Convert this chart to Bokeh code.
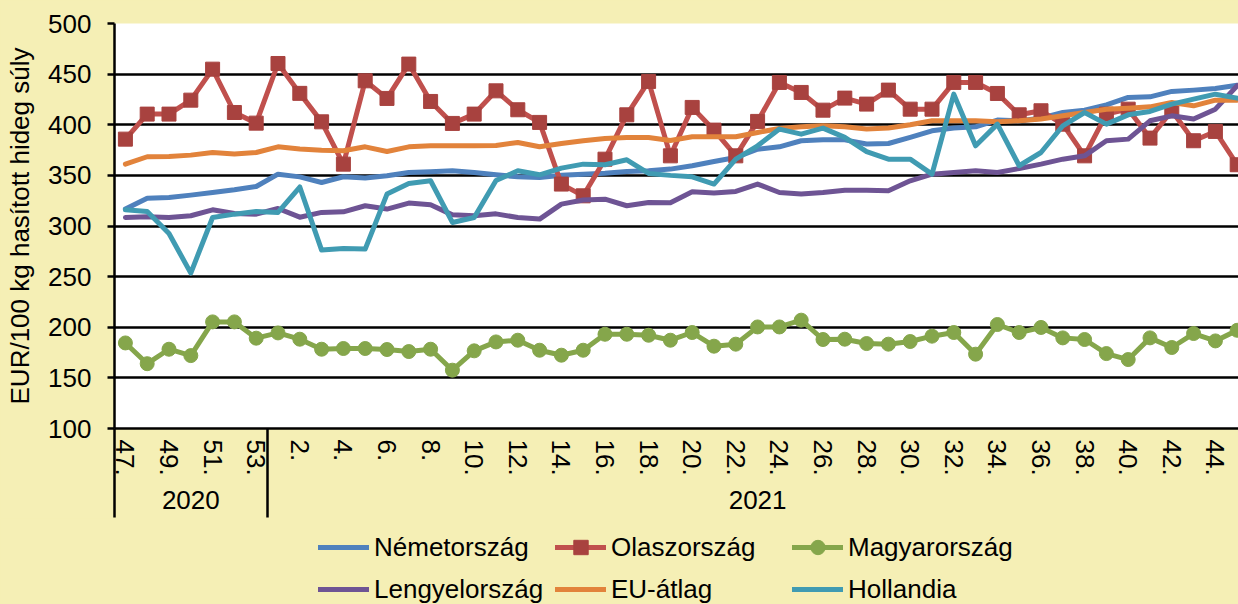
from bokeh.plotting import figure
from bokeh.layouts import column
from bokeh.models import Range1d, FixedTicker, LinearAxis, Legend, LegendItem
from bokeh.embed import file_html
from bokeh.resources import INLINE

weeks = ["47.", "48.", "49.", "50.", "51.", "52.", "53.",
         "1.", "2.", "3.", "4.", "5.", "6.", "7.", "8.", "9.", "10.",
         "11.", "12.", "13.", "14.", "15.", "16.", "17.", "18.", "19.", "20.",
         "21.", "22.", "23.", "24.", "25.", "26.", "27.", "28.", "29.", "30.",
         "31.", "32.", "33.", "34.", "35.", "36.", "37.", "38.", "39.", "40.",
         "41.", "42.", "43.", "44.", "45."]
years = ["2020", "2021"]
year_counts = [7, 45]
y_ticks = [100, 150, 200, 250, 300, 350, 400, 450, 500]

nemetorszag = [316.7, 327.5, 328.2, 330.5, 333.1, 335.8, 339.0, 351.2, 348.5, 343.0,
               348.6, 347.3, 349.6, 352.9, 353.5, 354.5, 352.9, 350.6, 348.6, 348.0,
               350.2, 351.2, 352.2, 353.9, 354.5, 356.2, 359.5, 363.7, 367.7, 375.9,
               378.2, 384.2, 385.1, 385.1, 381.0, 381.5, 387.5, 394.0, 396.7, 398.0,
               404.6, 403.9, 406.5, 412.1, 414.4, 419.7, 427.0, 427.6, 432.9, 434.2,
               435.8, 439.1]
olaszorszag = [385.8, 410.5, 410.5, 424.3, 454.9, 412.1, 401.6, 460.5, 431.0, 402.9,
               361.1, 443.4, 426.0, 459.9, 423.0, 401.3, 410.5, 433.5, 414.8, 402.3,
               341.4, 329.8, 366.0, 409.8, 442.8, 369.3, 417.1, 394.7, 369.3, 403.3,
               441.8, 431.9, 414.4, 426.3, 420.4, 434.2, 415.4, 415.4, 441.8, 441.8,
               430.9, 409.8, 413.8, 400.6, 369.3, 410.5, 415.4, 386.8, 413.8, 384.2,
               393.4, 360.5]
magyarorszag = [184.5, 164.0, 178.3, 172.0, 205.3, 205.3, 189.2, 194.4, 188.2, 178.3,
                179.0, 179.0, 178.0, 176.0, 178.3, 157.6, 176.7, 185.5, 187.2, 177.3,
                172.4, 177.3, 193.1, 193.1, 192.1, 187.2, 194.8, 181.3, 183.3, 200.3,
                200.3, 207.0, 187.9, 188.2, 183.9, 183.3, 185.9, 191.2, 194.8, 173.4,
                202.7, 194.8, 199.8, 189.5, 187.9, 174.0, 168.1, 189.5, 180.0, 193.8,
                186.5, 197.0]
lengyelorszag = [308.4, 309.1, 308.4, 310.1, 316.0, 312.4, 311.7, 317.3, 308.7, 313.4,
                 314.0, 320.0, 316.7, 322.6, 321.0, 311.0, 310.1, 312.0, 308.4, 306.8,
                 321.6, 325.6, 326.5, 320.0, 323.2, 323.0, 333.8, 332.5, 334.1, 341.4,
                 333.1, 331.5, 333.1, 335.4, 335.4, 334.8, 344.6, 351.2, 352.9, 354.5,
                 352.9, 356.8, 361.1, 366.0, 369.3, 384.2, 385.8, 403.9, 408.8, 405.6,
                 415.4, 438.5]
eu_atlag = [361.1, 368.4, 368.7, 370.0, 372.6, 371.0, 372.6, 378.2, 376.0, 374.9,
            374.3, 378.2, 373.6, 378.2, 379.2, 379.2, 379.2, 379.5, 382.5, 378.2,
            381.5, 384.2, 386.5, 387.5, 387.5, 384.5, 388.1, 388.1, 388.1, 392.4,
            396.3, 398.0, 399.0, 398.0, 395.7, 396.7, 400.0, 403.9, 403.9, 403.9,
            402.9, 403.9, 405.6, 408.8, 412.1, 415.4, 416.4, 417.7, 422.0, 418.7,
            424.3, 424.3]
hollandia = [316.0, 314.4, 292.6, 253.5, 308.4, 311.7, 314.4, 313.4, 338.5, 276.2,
             277.8, 277.2, 331.5, 342.0, 344.7, 303.5, 308.4, 345.0, 354.5, 350.6,
             357.2, 361.1, 360.5, 365.4, 351.9, 350.0, 348.6, 341.4, 366.0, 379.2,
             395.7, 390.7, 396.7, 387.5, 373.5, 366.0, 366.0, 351.2, 430.2, 379.2,
             400.6, 359.5, 372.6, 399.0, 412.1, 400.6, 409.8, 413.1, 420.4, 425.3,
             430.2, 426.3]

BG = "#F5EFB5"
FONT = "Liberation Sans"
FS = "26px"

C_DE = "#4F81BD"
C_IT = "#C0504D"
C_IT_M = "#A8423F"
C_HU = "#85A64B"
C_PL = "#6E5494"
C_EU = "#E2833B"
C_NL = "#409BB2"
LW = 5

x = list(range(len(weeks)))

p = figure(width=1238, height=518, output_backend="svg", toolbar_location=None,
           x_range=Range1d(-0.5, 51.06), y_range=Range1d(100, 500),
           x_axis_type=None,
           min_border_left=114, min_border_right=0, min_border_top=23,
           min_border_bottom=90,
           background_fill_color="white", border_fill_color=BG,
           outline_line_color=None)

# y axis
yax = p.yaxis[0]
yax.ticker = FixedTicker(ticks=y_ticks)
yax.axis_label = "EUR/100 kg hasított hideg súly"
yax.axis_label_text_font = FONT
yax.axis_label_text_font_size = FS
yax.axis_label_text_font_style = "normal"
yax.axis_label_text_color = "black"
yax.axis_label_standoff = 10
yax.major_label_text_font = FONT
yax.major_label_text_font_size = FS
yax.major_label_text_color = "black"
yax.major_label_standoff = 16
yax.major_tick_out = 7
yax.major_tick_in = 0
yax.major_tick_line_color = "black"
yax.major_tick_line_width = 2.5
yax.minor_tick_line_color = None
yax.axis_line_color = "black"
yax.axis_line_width = 2.5

p.ygrid.ticker = FixedTicker(ticks=y_ticks)
p.ygrid.grid_line_color = "black"
p.ygrid.grid_line_width = 2.5

# week axis (long minor ticks separate the years)
week_ticks = x[::2]
wax = LinearAxis(ticker=FixedTicker(ticks=week_ticks, minor_ticks=[-0.5, year_counts[0] - 0.5]),
                 major_label_overrides={i: weeks[i] for i in week_ticks},
                 major_label_orientation="vertical",
                 major_label_text_font=FONT, major_label_text_font_size=FS,
                 major_label_text_color="black", major_label_standoff=-78,
                 major_tick_line_color=None, major_tick_out=0, major_tick_in=0,
                 minor_tick_line_color="black", minor_tick_line_width=2.5,
                 minor_tick_out=89, minor_tick_in=0,
                 axis_line_color="black", axis_line_width=2.5)
p.add_layout(wax, "below")

# year axis
centers = []
start = 0
for c in year_counts:
    centers.append(start + (c - 1) / 2)
    start += c
yearax = LinearAxis(ticker=FixedTicker(ticks=centers, minor_ticks=[]),
                    major_label_overrides={centers[i]: years[i] for i in range(len(years))},
                    major_label_text_font=FONT, major_label_text_font_size=FS,
                    major_label_text_color="black", major_label_standoff=12,
                    major_tick_line_color=None, major_tick_out=0, major_tick_in=0,
                    minor_tick_line_color=None, axis_line_color=None)
p.add_layout(yearax, "below")


def draw_series(fig):
    rs = {}
    rs["de"] = fig.line(x, nemetorszag, line_color=C_DE, line_width=LW, line_join="round", line_cap="round")
    rs["it"] = fig.line(x, olaszorszag, line_color=C_IT, line_width=LW, line_join="round", line_cap="round")
    rs["it_m"] = fig.scatter(x, olaszorszag, marker="square", size=14, fill_color=C_IT_M, line_color=C_IT_M)
    rs["hu"] = fig.line(x, magyarorszag, line_color=C_HU, line_width=LW, line_join="round", line_cap="round")
    rs["hu_m"] = fig.scatter(x, magyarorszag, marker="circle", size=14, fill_color=C_HU, line_color=C_HU)
    rs["pl"] = fig.line(x, lengyelorszag, line_color=C_PL, line_width=LW, line_join="round", line_cap="round")
    rs["eu"] = fig.line(x, eu_atlag, line_color=C_EU, line_width=LW, line_join="round", line_cap="round")
    rs["nl"] = fig.line(x, hollandia, line_color=C_NL, line_width=LW, line_join="round", line_cap="round")
    return rs


draw_series(p)

# legend strip below the chart (same series, outside its visible range)
lg = figure(width=1238, height=86, output_backend="svg", toolbar_location=None,
            x_range=p.x_range, y_range=Range1d(0, 1),
            x_axis_type=None, y_axis_type=None,
            min_border_left=114, min_border_right=0, min_border_top=0, min_border_bottom=0,
            background_fill_color=BG, border_fill_color=BG, outline_line_color=None)
lg.xgrid.visible = False
lg.ygrid.visible = False
k = draw_series(lg)

legend = Legend(items=[
    LegendItem(label="Németország", renderers=[k["de"]]),
    LegendItem(label="Olaszország", renderers=[k["it"], k["it_m"]]),
    LegendItem(label="Magyarország", renderers=[k["hu"], k["hu_m"]]),
    LegendItem(label="Lengyelország", renderers=[k["pl"]]),
    LegendItem(label="EU-átlag", renderers=[k["eu"]]),
    LegendItem(label="Hollandia", renderers=[k["nl"]]),
], location=(204, -3), orientation="horizontal", ncols=3,
    glyph_width=51, glyph_height=36, label_height=36, label_width=175,
    label_standoff=5, spacing=6, padding=0, margin=0,
    border_line_color=None, background_fill_alpha=0,
    label_text_font=FONT, label_text_font_size=FS, label_text_color="black")
lg.add_layout(legend)

layout = column(p, lg, spacing=0, styles={"background-color": BG})
open("out.html", "w").write(file_html(layout, INLINE))
